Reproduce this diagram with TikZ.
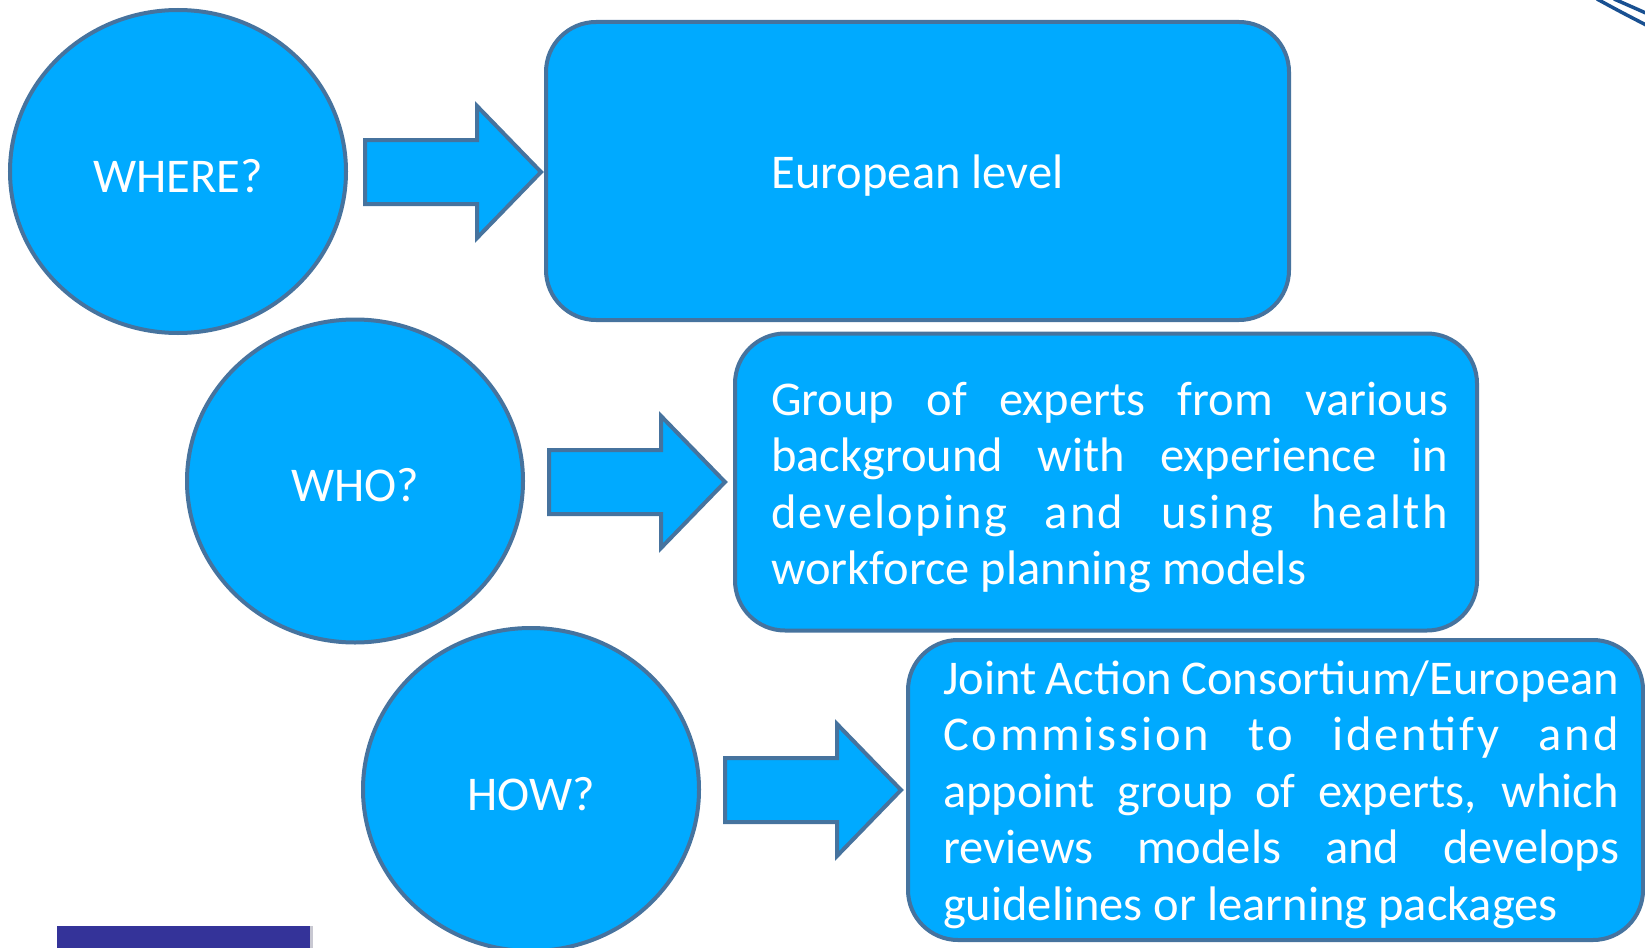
\documentclass[tikz,border=0pt]{standalone}
\usepackage{fontspec}
\setmainfont{Carlito}
\usetikzlibrary{shapes.geometric}
\definecolor{fillblue}{RGB}{0,170,255}
\definecolor{edgeblue}{RGB}{70,115,158}
\definecolor{logoblue}{RGB}{25,80,145}
\definecolor{barpurple}{RGB}{52,51,153}
\definecolor{bargray}{RGB}{200,200,210}
\newcommand\fitline[1]{\makebox[\linewidth][s]{#1}\par}
\newcommand\spreadline[2]{\makebox[\linewidth][s]{\addfontfeature{LetterSpace=#1}#2}\par}
\begin{document}
\begin{tikzpicture}[x=1pt,y=-1pt, line width=4pt,
  bubble/.style={ellipse, draw=edgeblue, fill=fillblue, minimum width=336pt, minimum height=323pt, inner sep=0pt},
  panel/.style={rectangle, rounded corners=50pt, draw=edgeblue, fill=fillblue, inner sep=0pt},
  bigtext/.style={text=white, inner sep=0pt, font=\fontsize{48.5pt}{56.6pt}\selectfont},
  bodytext/.style={bigtext, anchor=base west},
  barrow/.pic={\path[draw=edgeblue, fill=fillblue, line join=miter]
     (0,-32) -- (112,-32) -- (112,-66) -- (176,0) -- (112,66) -- (112,32) -- (0,32) -- cycle;}
]
\useasboundingbox (0,0) rectangle (1645,947);
\begin{scope}
\clip (0,0) rectangle (1645,947);
% circles
\node[bubble] (c1) at (178,171.5) {};
\node[bubble] (c2) at (355,481) {};
\node[bubble] (c3) at (531,789.5) {};
\node[bigtext] (t1) at ([yshift=-4.5pt]c1.center) {WHERE?};
\node[bigtext] (t2) at ([yshift=-4.5pt]c2.center) {WHO?};
\node[bigtext] (t3) at ([yshift=-4.5pt]c3.center) {HOW?};
% block arrows
\pic (a1) at (365,172) {barrow};
\pic (a2) at (549,482) {barrow};
\pic (a3) at (725,790) {barrow};
% panels
\node[panel, minimum width=743pt, minimum height=298pt] (b1) at (917.5,171) {};
\node[panel, minimum width=742pt, minimum height=297pt] (b2) at (1106,482) {};
\node[panel, minimum width=735pt, minimum height=300pt] (b3) at (1275.5,790) {};
\node[bigtext] (p1) at ([yshift=-5pt]b1.center) {European level};
\node[bodytext] (p2) at (769,415) {\parbox[t]{677pt}{\parindent=0pt\parskip=0pt
  \fitline{Group of experts from various}
  \fitline{background with experience in}
  \spreadline{4.5}{developing and using health}
  workforce planning models}};
\node[bodytext] (p3) at (941,694) {\parbox[t]{676pt}{\parindent=0pt\parskip=0pt
  \fitline{Joint Action Consortium/European}
  \spreadline{6}{Commission to identify and}
  \fitline{appoint group of experts, which}
  \fitline{reviews models and develops}
  guidelines or learning packages}};
% logo fragment top right
\draw[logoblue, line width=3.5pt] (1597,-1) .. controls (1619,11) .. (1648,26);
\draw[logoblue, line width=3.5pt] (1614,-1) .. controls (1630,6) .. (1648,14);
% bar bottom left
\fill[barpurple] (57,926) rectangle (310,950);
\fill[bargray] (310,926) rectangle (313,950);
\end{scope}
\end{tikzpicture}
\end{document}
